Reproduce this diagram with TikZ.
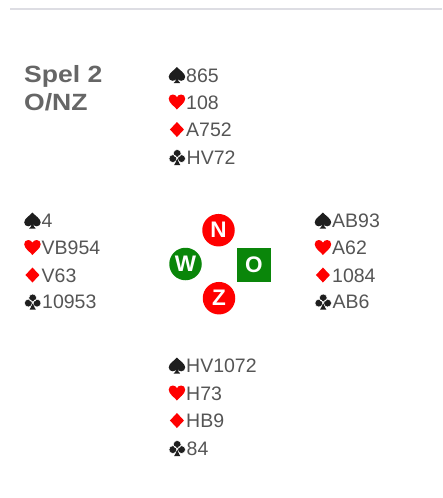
\documentclass[tikz,border=0pt]{standalone}
\usepackage{fontspec}
\usepackage{graphicx}
\setmainfont{Liberation Sans}
\definecolor{txtgray}{HTML}{555555}
\definecolor{titlegray}{HTML}{666666}
\definecolor{suitred}{HTML}{FF0000}
\definecolor{suitblack}{HTML}{1E1E1E}
\definecolor{seatred}{HTML}{FF0000}
\definecolor{seatgreen}{HTML}{0A860A}
\definecolor{rulegray}{HTML}{DDDDE3}
\newcommand{\spS}{\tikz[x=1pt,y=1pt,baseline=0pt]{\fill[suitblack] (8.25,15) .. controls (10,12.5) and (16.5,9) .. (16.5,5.2) .. controls (16.5,2.6) and (14.6,1.2) .. (12.5,1.2) .. controls (10.8,1.2) and (9.6,2.2) .. (9,3.4) .. controls (9.2,1.5) and (10.2,0) .. (11.5,-1) -- (5,-1) .. controls (6.3,0) and (7.3,1.5) .. (7.5,3.4) .. controls (6.9,2.2) and (5.7,1.2) .. (4,1.2) .. controls (1.9,1.2) and (0,2.6) .. (0,5.2) .. controls (0,9) and (6.5,12.5) .. (8.25,15) -- cycle;}\kern1pt}
\newcommand{\spH}{\tikz[x=1pt,y=1pt,baseline=0pt]{\fill[suitred] (8.25,-0.5) .. controls (6,2.5) and (0,6) .. (0,10.3) .. controls (0,13) and (1.8,14.5) .. (4,14.5) .. controls (6,14.5) and (7.6,13.3) .. (8.25,11.8) .. controls (8.9,13.3) and (10.5,14.5) .. (12.5,14.5) .. controls (14.7,14.5) and (16.5,13) .. (16.5,10.3) .. controls (16.5,6) and (10.5,2.5) .. (8.25,-0.5) -- cycle;}\kern1pt}
\newcommand{\spD}{\tikz[x=1pt,y=1pt,baseline=0pt]{\path (0,0) -- (16.5,0); \fill[suitred] (1.25,7) -- (8.25,14.5) -- (15.25,7) -- (8.25,-0.5) -- cycle;}\kern1pt}
\newcommand{\spC}{\tikz[x=1pt,y=1pt,baseline=0pt]{\path (0,0) -- (16.5,0); \fill[suitblack] (7.3,5) -- (9.2,5) .. controls (9.4,2) and (10.2,0.3) .. (11.3,-1) -- (5.2,-1) .. controls (6.3,0.3) and (7.1,2) .. (7.3,5) -- cycle; \filldraw[fill=suitblack,draw=white,line width=0.5pt] (3.9,5.4) circle (3.9) (12.6,5.4) circle (3.9) (8.25,10.6) circle (3.9);}\kern1pt}
\begin{document}
\begin{tikzpicture}[x=1pt,y=-1pt,
  cardline/.style={anchor=base west,inner sep=0pt,text=txtgray,font=\fontsize{19.5}{22}\selectfont},
  titletext/.style={anchor=base west,inner sep=0pt,text=titlegray,font=\fontsize{23.5}{28}\selectfont\bfseries},
  seatcirc/.style={circle,fill=seatred,minimum size=32.5pt,inner sep=0pt,text=white,font=\fontsize{22.5}{24}\selectfont\bfseries},
  seatsq/.style={rectangle,fill=seatgreen,minimum size=34pt,inner sep=0pt,text=white,font=\fontsize{22.5}{24}\selectfont\bfseries}]
\useasboundingbox (0,0) rectangle (442,498);
\fill[white] (0,0) rectangle (442,498);
\draw[rulegray,line width=2pt] (10,9) -- (442,9);
% title
\node[titletext] (t1) at (24,82.5) {\scalebox{1.13}[1]{Spel 2}};
\node[titletext] (t2) at (24,110) {\scalebox{1.13}[1]{O/NZ}};
% North
\node[cardline] (n1) at (168.5,82) {\spS865};
\node[cardline] (n2) at (168.5,109) {\spH108};
\node[cardline] (n3) at (168.5,136.5) {\spD A752};
\node[cardline] (n4) at (168.5,164) {\spC HV72};
% West
\node[cardline] (w1) at (24,227.5) {\spS4};
\node[cardline] (w2) at (24,254.5) {\spH VB954};
\node[cardline] (w3) at (24,282) {\spD V63};
\node[cardline] (w4) at (24,308.5) {\spC10953};
% East
\node[cardline] (e1) at (314.5,227.5) {\spS AB93};
\node[cardline] (e2) at (314.5,254.5) {\spH A62};
\node[cardline] (e3) at (314.5,282) {\spD1084};
\node[cardline] (e4) at (314.5,308.5) {\spC AB6};
% South
\node[cardline] (s1) at (168.5,372.5) {\spS HV1072};
\node[cardline] (s2) at (168.5,400) {\spH H73};
\node[cardline] (s3) at (168.5,427.5) {\spD HB9};
\node[cardline] (s4) at (168.5,455) {\spC84};
% compass
\node[seatcirc] (N) at (218.5,230.2) {N};
\node[seatcirc,fill=seatgreen] (W) at (185.5,264) {W};
\node[seatsq] (O) at (253.8,264.5) {O};
\node[seatcirc] (Z) at (219,298.2) {Z};
\end{tikzpicture}
\end{document}
